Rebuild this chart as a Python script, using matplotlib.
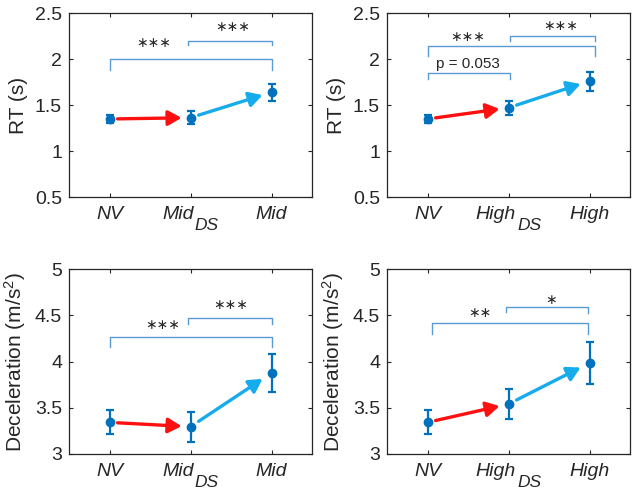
import matplotlib
matplotlib.use("Agg")
import matplotlib.pyplot as plt
from matplotlib.transforms import ScaledTranslation
import numpy as np

plt.rcParams['font.family'] = ['Liberation Sans', 'DejaVu Sans']
plt.rcParams['mathtext.fontset'] = 'custom'
plt.rcParams['mathtext.rm'] = 'Liberation Sans'
plt.rcParams['mathtext.it'] = 'Liberation Sans:italic'
plt.rcParams['mathtext.bf'] = 'Liberation Sans:bold'

# ---------------- data ----------------
x_pos = [1, 2, 3]
labels_mid_main = ['NV', 'Mid', 'Mid']
labels_mid_sub = ['', 'DS', '']
labels_high_main = ['NV', 'High', 'High']
labels_high_sub = ['', 'DS', '']

rt_mid_mean = [1.348, 1.362, 1.638]
rt_mid_err = [0.045, 0.070, 0.095]
rt_high_mean = [1.348, 1.470, 1.760]
rt_high_err = [0.045, 0.076, 0.103]

dec_mid_mean = [3.342, 3.295, 3.876]
dec_mid_err = [0.130, 0.160, 0.205]
dec_high_mean = [3.342, 3.540, 3.984]
dec_high_err = [0.130, 0.160, 0.232]

rt_yticks = [0.5, 1, 1.5, 2, 2.5]
rt_yticklabels = ['0.5', '1', '1.5', '2', '2.5']
dec_yticks = [3, 3.5, 4, 4.5, 5]
dec_yticklabels = ['3', '3.5', '4', '4.5', '5']

# significance brackets: (x1, x2, y_bar, y_tip1, y_tip2, label, label_x, label_y)
sig_rt_mid = [
    (1.0, 3.0, 2.00, 1.88, 1.88, '∗∗∗', 1.55, 2.17),
    (1.97, 3.0, 2.196, 2.15, 2.15, '∗∗∗', 2.52, 2.35),
]
sig_rt_high = [
    (1.0, 2.02, 1.848, 1.78, 1.78, 'p = 0.053', 1.5, 1.95),
    (1.0, 3.07, 2.145, 2.03, 2.03, '∗∗∗', 1.5, 2.24),
    (2.02, 3.07, 2.25, 2.196, 2.196, '∗∗∗', 2.64, 2.36),
]
sig_dec_mid = [
    (1.0, 3.0, 4.265, 4.157, 4.157, '∗∗∗', 1.66, 4.39),
    (1.97, 3.0, 4.47, 4.41, 4.41, '∗∗∗', 2.5, 4.614),
]
sig_dec_high = [
    (1.05, 2.98, 4.416, 4.297, 4.297, '∗∗', 1.65, 4.52),
    (1.97, 2.98, 4.586, 4.54, 4.52, '∗', 2.53, 4.67),
]

# ---------------- style ----------------
PT_BLUE = '#0072BD'
BR_BLUE = '#5B9BD5'
RED = '#FF1010'
CYAN = '#16ACEC'
DARK = '#262626'

fig = plt.figure(figsize=(6.36, 4.91), dpi=100)
W, H = 636, 491
renderer = fig.canvas.get_renderer()


def add_ax(left, top, right, bottom):
    return fig.add_axes([left / W, 1 - bottom / H, (right - left) / W, (bottom - top) / H])


def draw_xlabels(ax, mains, subs):
    base = ax.get_xaxis_transform()
    for x, m, s in zip(x_pos, mains, subs):
        t1 = ax.text(x, 0, m, transform=base, ha='left', va='baseline',
                     fontsize=14, style='italic', color=DARK, clip_on=False)
        w1 = t1.get_window_extent(renderer).width
        t2 = None
        w2 = 0.0
        gap = 0.0
        if s:
            t2 = ax.text(x, 0, s, transform=base, ha='left', va='baseline',
                         fontsize=12.5, style='italic', color=DARK, clip_on=False)
            w2 = t2.get_window_extent(renderer).width
            gap = 1.0
        tot = w1 + gap + w2
        t1.set_transform(base + ScaledTranslation(-tot / 2 / 100, -22 / 100, fig.dpi_scale_trans))
        if t2 is not None:
            t2.set_transform(base + ScaledTranslation((-tot / 2 + w1 + gap) / 100, -33 / 100,
                                                      fig.dpi_scale_trans))


def draw_panel(ax, means, errs, mains, subs, yticks, yticklabels, ylim, ylabel, sigs):
    ax.errorbar(x_pos, means, yerr=errs, fmt='o', color=PT_BLUE, ms=6,
                elinewidth=1.6, capsize=3, capthick=1.6, zorder=3)
    colors = [RED, CYAN]
    for i in range(2):
        x0, x1 = x_pos[i], x_pos[i + 1]
        y0, y1 = means[i], means[i + 1]
        t0, t1 = 0.1, 0.89
        xs, ys = x0 + t0 * (x1 - x0), y0 + t0 * (y1 - y0)
        xe, ye = x0 + t1 * (x1 - x0), y0 + t1 * (y1 - y0)
        ax.annotate('', xy=(xe, ye), xytext=(xs, ys),
                    arrowprops=dict(arrowstyle='-|>,head_length=0.5,head_width=0.28',
                                    color=colors[i], lw=2.4, mutation_scale=16,
                                    shrinkA=0, shrinkB=0), zorder=2)
    for (xa, xb, yb, yt1, yt2, lab, lx, ly) in sigs:
        ax.plot([xa, xa, xb, xb], [yt1, yb, yb, yt2], color=BR_BLUE, lw=1.0, zorder=1)
        if lab.startswith('p'):
            ax.text(lx, ly, lab, ha='center', va='center', fontsize=11, color=DARK)
        else:
            ax.text(lx, ly, lab, ha='center', va='center', fontsize=10,
                    color=DARK, family='DejaVu Sans')
    ax.set_xlim(0.5, 3.5)
    ax.set_ylim(*ylim)
    ax.set_xticks(x_pos)
    ax.set_xticklabels([])
    ax.set_yticks(yticks)
    ax.set_yticklabels(yticklabels, fontsize=14)
    ax.tick_params(direction='in', length=3, width=0.8, colors=DARK,
                   top=True, right=True, labelcolor=DARK, pad=5)
    for s in ax.spines.values():
        s.set_color(DARK)
        s.set_linewidth(0.9)
    ax.set_ylabel(ylabel, fontsize=15, color=DARK, labelpad=5)
    draw_xlabels(ax, mains, subs)


ax1 = add_ax(69, 13, 312, 197)
ax2 = add_ax(387, 13, 630, 197)
ax3 = add_ax(69, 269, 312, 454)
ax4 = add_ax(387, 269, 630, 454)

draw_panel(ax1, rt_mid_mean, rt_mid_err, labels_mid_main, labels_mid_sub,
           rt_yticks, rt_yticklabels, (0.5, 2.5), 'RT (s)', sig_rt_mid)
draw_panel(ax2, rt_high_mean, rt_high_err, labels_high_main, labels_high_sub,
           rt_yticks, rt_yticklabels, (0.5, 2.5), 'RT (s)', sig_rt_high)
draw_panel(ax3, dec_mid_mean, dec_mid_err, labels_mid_main, labels_mid_sub,
           dec_yticks, dec_yticklabels, (3, 5), r'Deceleration (m/s$^2$)', sig_dec_mid)
draw_panel(ax4, dec_high_mean, dec_high_err, labels_high_main, labels_high_sub,
           dec_yticks, dec_yticklabels, (3, 5), r'Deceleration (m/s$^2$)', sig_dec_high)

fig.savefig('out.png', dpi=100, facecolor='white')
